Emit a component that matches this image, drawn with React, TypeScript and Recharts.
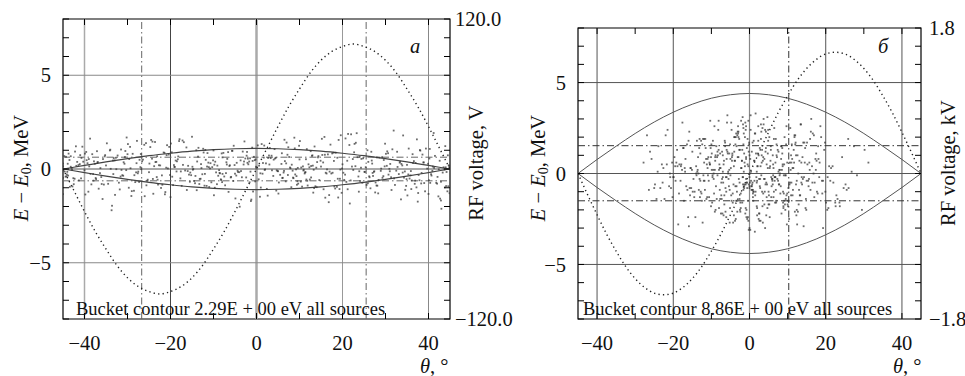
import React from 'react';
import { ComposedChart, XAxis, YAxis, Scatter, Line, ReferenceLine, ReferenceArea } from 'recharts';

const FONT = '"Liberation Serif", "Times New Roman", Times, serif';

// ---------- axes ----------
const xTicks = [-40, -30, -20, -10, 0, 10, 20, 30, 40];
const xLabelTicks = [-40, -20, 0, 20, 40];
const eTicks = [-8, -7, -6, -5, -4, -3, -2, -1, 0, 1, 2, 3, 4, 5, 6, 7, 8];
const eLabelTicks = [-5, 0, 5];
const rfTicksA = [-120, -105, -90, -75, -60, -45, -30, -15, 0, 15, 30, 45, 60, 75, 90, 105, 120];
const rfTicksB = [-1.8, -1.575, -1.35, -1.125, -0.9, -0.675, -0.45, -0.225, 0, 0.225, 0.45, 0.675, 0.9, 1.125, 1.35, 1.575, 1.8];
const rfLabelsA = ['−120.0', '120.0'];
const rfLabelsB = ['−1.8', '1.8'];

// ---------- bucket contours ----------
const thetaC = [-45, -40, -35, -30, -25, -20, -15, -10, -5, 0, 5, 10, 15, 20, 25, 30, 35, 40, 45];
const contourUpA = [0, 0.19, 0.38, 0.55, 0.71, 0.84, 0.95, 1.03, 1.08, 1.1, 1.08, 1.03, 0.95, 0.84, 0.71, 0.55, 0.38, 0.19, 0];
const contourLoA = [0, -0.19, -0.38, -0.55, -0.71, -0.84, -0.95, -1.03, -1.08, -1.1, -1.08, -1.03, -0.95, -0.84, -0.71, -0.55, -0.38, -0.19, 0];
const contourUpB = [0, 0.77, 1.5, 2.2, 2.83, 3.37, 3.81, 4.14, 4.33, 4.4, 4.33, 4.14, 3.81, 3.37, 2.83, 2.2, 1.5, 0.77, 0];
const contourLoB = [0, -0.77, -1.5, -2.2, -2.83, -3.37, -3.81, -4.14, -4.33, -4.4, -4.33, -4.14, -3.81, -3.37, -2.83, -2.2, -1.5, -0.77, 0];

// ---------- RF voltage ----------
const thetaRF = [-45, -42.5, -40, -37.5, -35, -32.5, -30, -27.5, -25, -22.5, -20, -17.5, -15, -12.5, -10, -7.5, -5, -2.5, 0,
  2.5, 5, 7.5, 10, 12.5, 15, 17.5, 20, 22.5, 25, 27.5, 30, 32.5, 35, 37.5, 40, 42.5, 45];
const rfA = [0, -17, -34, -50, -64, -77, -87, -94, -98, -100, -98, -94, -87, -77, -64, -50, -34, -17, 0,
  17, 34, 50, 64, 77, 87, 94, 98, 100, 98, 94, 87, 77, 64, 50, 34, 17, 0];
const rfB = [0, -0.26, -0.51, -0.75, -0.96, -1.15, -1.3, -1.41, -1.48, -1.5, -1.48, -1.41, -1.3, -1.15, -0.96, -0.75, -0.51, -0.26, 0,
  0.26, 0.51, 0.75, 0.96, 1.15, 1.3, 1.41, 1.48, 1.5, 1.48, 1.41, 1.3, 1.15, 0.96, 0.75, 0.51, 0.26, 0];

// ---------- particle clouds ----------
const xA = [
  -43.2, 12.7, -8.1, 31.4, -27.9, 3.6, 40.2, -15.5, 22.8, -36.4,
  7.9, -2.3, 18.1, -41.7, 27.3, -11.9, 35.6, -22.4, 0.8, 14.3,
  -31.2, 43.5, -5.7, 25.9, -18.8, 9.2, -39.1, 33.7, -13.6, 20.4,
  -24.5, 4.9, 38.8, -7.3, 16.6, -44.1, 29.8, -1.2, 11.5, -33.9,
  42.1, -19.7, 6.3, -29.4, 24.1, -9.8, 37.2, -37.8, 1.9, 15.8,
  -14.2, 28.6, -42.5, 10.4, -26.1, 34.9, -4.6, 19.3, -35.2, 44.2,
  -0.4, -21.3, 13.1, -38.6, 26.7, -10.5, 41.3, -16.9, 8.6, -30.7,
  32.5, -6.8, 21.7, -44.7, 5.5, -23.8, 36.9, -12.4, 17.4, -40.3,
  30.1, -3.4, 39.7, -28.5, 2.7, -17.6, 23.3, -34.5, 12.1, -8.9,
  44.8, -25.3, 9.9, -42.9, 27.9, -0.9, 16.1, -32.3, 35.1, -19.1,
  6.8, -11.2, 40.9, -37.1, 19.8, -5.1, 29.2, -45.0, 13.9, -21.9,
  3.1, 33.1, -27.2, 24.6, -15.9, 42.7, -7.7, 11.0, -36.9, 18.7,
  -41.1, 26.2, -2.8, 37.9, -20.6, 7.2, -31.8, 14.9, -9.4, 31.9,
  -13.0, 22.2, -43.8, 4.2, 38.3, -24.9, 10.9, -33.2, 28.3, -1.7,
  17.0, -39.6, 34.3, -6.2, 43.0, -18.2, 1.4, -29.9, 20.9, -12.8,
  -35.7, 8.1, 25.4, -44.4, 15.2, -4.0, 36.4, -22.9, 5.9, -26.8,
  39.2, -10.1, 30.7, -38.2, 12.4, -16.3, 23.9, -3.0, 41.8, -32.7,
  -7.0, 19.0, -42.2, 27.0, -14.7, 9.5, -25.7, 35.8, -0.2, 13.4,
  -30.3, 44.5, -19.4, 2.2, -37.4, 21.3, -8.5, 32.8, -11.6, 6.6,
  -23.1, 40.6, -45.0, 16.9, -2.0, 28.9, -34.1, 11.8, -17.1, 37.5,
  0.3, -40.8, 24.3, -13.3, 33.4, -27.5, 7.6, -6.5, 18.4, -20.1,
  42.4, -31.5, 14.6, -9.1, 26.5, -43.5, 3.9, 38.6, -16.0, 10.1,
  -28.2, 20.0, -4.3, 30.4, -36.1, 8.8, -12.1, 44.0, -24.1, 15.5,
  -1.5, 34.6, -39.9, 22.5, -18.5, 5.2, 41.0, -33.6, 12.9, -7.9,
  29.5, -26.4, 1.0, -42.0, 17.7, -10.8, 36.1, -21.6, 25.1, -3.7,
  -35.0, 9.7, 39.4, -15.2, 4.5, -29.1, 31.1, -44.9, 19.6, -8.3,
  13.7, -23.5, 43.7, -0.6, 27.6, -38.9, 6.1, -14.0, 35.3, -30.0,
  21.1, -5.4, -41.4, 11.3, -19.9, 32.2, -2.6, 23.7, -27.0, 40.0,
  -11.4, 8.4, -32.0, 37.0, -17.9, 16.3, -43.0, 2.4, 28.0, -6.0,
  34.0, -24.7, 18.9, -37.6, 10.6, -13.8, 42.9, -20.9, 5.0, -29.6,
];
const yA = [
  0.12, -0.45, 0.83, -1.12, 0.31, -0.07, 0.56, -0.68, 1.34, -0.22,
  0.04, 0.71, -0.93, 0.38, -0.15, 1.02, -0.51, 0.19, -1.48, 0.62,
  -0.33, 0.09, 0.97, -0.76, 0.45, -0.02, -1.21, 0.27, 0.66, -0.58,
  1.55, -0.11, 0.35, -0.87, 0.78, -0.29, 0.14, -1.63, 0.52, 0.01,
  -0.42, 0.89, -0.19, 1.18, -0.64, 0.23, -0.98, 0.41, -0.05, 1.71,
  -0.37, 0.61, -0.81, 0.08, 1.29, -0.54, 0.33, -1.07, 0.74, -0.16,
  0.47, -1.35, 0.18, -0.26, 0.92, -0.71, 0.06, 1.43, -0.49, 0.28,
  -0.09, 0.54, -1.84, 0.69, -0.31, 0.15, -0.62, 1.08, -0.24, 0.39,
  0.81, -0.44, 0.02, -1.16, 0.59, -0.13, 1.91, -0.79, 0.25, -0.36,
  0.16, -0.57, 1.24, -0.03, -0.88, 0.43, -0.2, 0.72, -1.41, 0.11,
  -0.66, 0.34, -0.1, 0.95, -1.27, 0.21, 0.63, -0.47, 0.07, -0.84,
  1.12, -0.27, 0.49, -0.73, 0.17, -1.58, 0.86, -0.04, 0.37, -0.95,
  0.26, -0.39, 1.47, -0.6, 0.03, 0.76, -1.09, 0.44, -0.18, 2.05,
  -0.52, 0.13, -0.35, 1.06, -0.77, 0.29, -0.08, 0.58, -1.3, 0.4,
  -0.14, 0.91, -0.46, 0.2, -2.12, 0.67, -0.25, 1.33, -0.69, 0.05,
  0.53, -0.97, 0.1, -0.41, 1.61, -0.17, 0.32, -0.83, 0.84, -0.01,
  -1.19, 0.46, -0.3, 0.79, -0.56, 1.15, -0.12, 0.24, -0.74, 0.6,
  0.36, -1.52, 0.93, -0.21, 0.0, -0.65, 1.38, -0.34, 0.51, -1.02,
  -0.06, 0.73, -0.86, 0.3, -0.48, 1.87, -0.23, 0.11, -0.9, 0.42,
  0.68, -0.28, 0.15, -1.39, 0.55, -0.1, 0.99, -0.63, 0.22, -1.74,
  1.26, -0.5, 0.07, -0.8, 0.39, -0.14, 0.64, -1.22, 0.87, -0.32,
  -0.02, 1.04, -0.59, 0.18, -1.03, 0.48, -0.37, 0.77, -0.11, 1.49,
  -0.7, 0.25, -0.16, 0.94, -0.43, 1.67, -0.89, 0.09, -0.53, 0.35,
  0.57, -1.11, 0.82, -0.05, 0.41, -0.72, 0.13, -1.96, 0.7, -0.26,
  -0.38, 0.5, -0.99, 1.21, -0.2, 0.03, -0.61, 0.88, -0.15, 0.46,
  0.19, -0.78, 1.09, -0.33, 0.6, -1.44, 0.27, -0.08, 1.8, -0.55,
  -0.92, 0.37, -0.03, 0.65, -1.25, 0.14, -0.47, 1.0, -0.29, 0.79,
  0.44, -0.64, 0.21, -0.18, 1.36, -0.85, 0.56, -0.4, 0.1, -1.33,
  0.85, -0.09, -0.73, 0.32, 1.59, -0.24, 0.06, -1.06, 0.62, -0.45,
  -0.19, 1.17, -0.52, 0.28, -0.94, 0.4, -1.68, 0.74, -0.12, 0.53,
];
const xA2 = [
  38.4, -12.3, 5.1, -33.0, 19.5, -40.5, 27.7, -2.1, 14.0, -21.0,
  -44.3, 9.3, -17.2, 31.0, -6.9, 42.3, -28.8, 0.5, 23.0, -35.5,
  11.7, -25.0, 36.6, -9.7, 2.9, -38.0, 17.2, -14.5, 29.0, -0.8,
  -30.9, 44.1, -19.0, 7.0, -42.6, 24.8, -4.9, 33.9, -22.0, 12.6,
  -8.7, 20.7, -36.0, 39.9, -13.9, 4.0, -27.6, 30.6, -1.3, 15.0,
  41.5, -23.2, 8.9, -44.0, 26.0, -11.0, 35.0, -32.9, 1.7, -16.6,
  18.3, -39.3, 28.4, -5.3, 43.3, -20.4, 10.3, -29.3, 22.0, -7.5,
  -41.9, 13.2, -3.2, 37.7, -24.3, 6.4, -34.8, 25.6, -12.9, 32.0,
  -18.0, 2.0, 40.4, -26.6, 16.0, -43.2, 9.0, -10.0, 34.5, -37.0,
  21.9, -1.0, -31.0, 12.3, 44.6, -15.0, 26.3, -22.7, 4.6, -39.0,
  30.9, -8.0, 17.9, -45.0, 6.9, -28.0, 38.0, -13.2, 23.5, -3.9,
  -33.4, 11.2, -20.8, 42.0, -0.1, 29.3, -41.0, 15.6, -9.6, 35.9,
  -25.6, 3.3, -14.8, 19.1, -37.9, 8.2, 44.9, -30.5, 27.1, -6.3,
  13.5, -42.3, 33.3, -17.4, 0.0, -23.6, 39.0, -11.8, 20.2, -35.8,
  5.8, -29.0, 24.0, -4.4, 41.2, -19.6, 10.8, -38.4, 31.6, -15.7,
  -2.4, 36.3, -26.0, 14.1, -44.6, 22.7, -8.2, 1.2, -32.6, 43.8,
  18.8, -12.0, 7.4, -21.2, 29.6, -40.0, 3.5, -5.9, 37.3, -27.3,
  25.2, -34.0, 11.9, -1.9, 40.7, -18.3, 16.8, -43.7, 6.0, -10.3,
  32.7, -23.0, 0.6, -36.7, 21.6, -7.1, 42.6, -14.3, 9.6, -30.2,
  -39.8, 26.9, -3.6, 15.3, -25.4, 35.4, -12.6, 4.3, -42.8, 19.9,
  10.0, -20.0, 38.1, -31.4, 1.5, -9.2, 23.1, -44.2, 30.3, -16.2,
  -5.0, 14.4, -37.3, 43.9, -22.2, 7.8, -28.4, 34.1, -0.3, 18.0,
  -13.5, 27.4, -40.7, 2.6, -19.2, 40.1, -6.6, 11.4, -33.7, 24.4,
  36.8, -2.9, 20.6, -27.8, 8.5, -11.5, 44.4, -35.3, 16.4, -21.4,
  3.0, -43.4, 29.9, -8.6, 13.0, -24.0, 38.9, -17.7, 25.8, -1.4,
  -31.6, 6.5, 42.9, -14.9, 21.2, -39.5, 0.9, -26.9, 33.6, -10.7,
  17.6, -4.7, -36.3, 28.1, -20.3, 11.6, -43.9, 37.6, -7.9, 4.7,
  -29.7, 22.4, -15.4, 40.3, -1.6, 12.7, -38.7, 31.3, -23.3, 9.4,
  44.7, -9.9, 15.9, -33.3, 26.8, -18.6, 1.8, -41.3, 34.8, -5.6,
  -24.2, 19.4, -11.1, 36.0, -30.6, 7.3, -2.2, 23.8, -45.0, 13.3,
];
const yA2 = [
  -0.21, 0.88, -1.31, 0.46, -0.03, 1.19, -0.72, 0.33, -0.97, 0.07,
  0.65, -0.38, 1.52, -0.12, 0.24, -1.46, 0.81, -0.55, 0.15, -0.83,
  1.06, -0.17, 0.42, -1.0, 0.72, -0.27, 1.3, -0.64, 0.02, -1.2,
  0.36, -0.91, 0.11, 1.41, -0.49, 0.57, -1.57, 0.19, -0.34, 0.95,
  -0.06, 1.63, -0.8, 0.28, -1.13, 0.5, -0.23, 0.84, -1.71, 0.13,
  0.7, -0.43, 1.1, -0.15, 0.38, -0.96, 0.22, -1.38, 0.61, -0.08,
  -1.04, 0.31, -0.58, 1.24, -0.19, 0.77, -0.67, 0.04, 1.85, -0.4,
  0.17, -1.26, 0.93, -0.32, 0.55, -0.1, 1.37, -0.85, 0.26, -0.5,
  1.49, -0.02, -0.74, 0.41, -1.53, 0.68, -0.29, 0.99, -0.13, 0.35,
  -0.61, 1.14, -0.36, 0.09, -0.92, 1.72, -0.44, 0.2, -1.15, 0.53,
  0.01, -0.7, 0.87, -1.34, 0.3, -0.18, 1.01, -0.53, 0.63, -2.01,
  0.45, -0.24, 1.27, -0.78, 0.12, -0.47, 0.74, -1.08, 0.39, -0.11,
  -0.87, 0.58, -0.04, 1.55, -0.62, 0.23, -1.29, 0.96, -0.37, 0.16,
  1.2, -0.52, 0.34, -0.9, 0.07, 1.44, -0.75, 0.49, -0.2, -1.6,
  0.27, -1.18, 0.66, -0.09, 1.92, -0.41, 0.14, -0.82, 1.05, -0.3,
  -0.45, 0.79, -1.45, 0.37, -0.14, 0.89, -0.59, 1.33, -0.01, -0.98,
  0.6, -0.26, 1.16, -1.23, 0.48, -0.07, 0.71, -0.42, 1.58, -0.69,
  -0.16, 1.03, -0.88, 0.25, -0.35, 0.52, -1.77, 0.82, -0.48, 0.1,
  0.92, -0.57, 0.18, -1.05, 1.28, -0.22, 0.44, -0.76, 0.06, 1.68,
  -1.36, 0.29, -0.11, 0.75, -0.63, 1.09, -0.28, 0.56, -0.93, 0.03,
  0.51, -1.5, 0.98, -0.05, 0.32, -0.81, 1.4, -0.39, 0.17, -1.12,
  -0.25, 0.69, -0.54, 1.22, -1.01, 0.08, -0.33, 1.79, -0.66, 0.43,
  1.13, -0.12, 0.59, -1.42, 0.21, -0.6, 0.9, -0.17, -2.2, 0.54,
  -0.79, 0.4, -0.3, 1.5, -0.46, 0.13, -1.19, 0.67, -0.02, 0.86,
  0.24, -0.95, 1.35, -0.21, 0.73, -1.32, 0.35, -0.5, 1.0, -0.14,
  -0.4, 1.56, -0.68, 0.12, -1.08, 0.47, -0.23, 0.8, -1.62, 0.31,
  0.83, -0.35, 0.05, -0.89, 1.18, -0.56, 0.28, -1.28, 0.62, -0.07,
  -1.0, 0.53, -0.19, 1.07, -0.71, 0.16, 1.62, -0.44, 0.38, -0.84,
  0.2, -1.4, 0.76, -0.27, 0.45, -0.13, 1.25, -0.61, -0.9, 0.97,
  1.46, -0.52, 0.1, -1.07, 0.64, -0.32, 0.91, -1.21, 0.29, -0.04,
];
const xB = [
  2.1, -7.4, 11.8, -0.9, 5.6, -14.2, 8.3, -3.7, 17.5, -10.1,
  0.4, 6.9, -5.2, 13.6, -18.7, 3.3, -1.8, 9.7, -12.5, 21.4,
  -4.4, 1.2, -8.9, 15.1, -2.6, 7.8, -22.3, 4.7, -6.3, 10.9,
  -15.8, 12.4, -0.2, 3.9, -11.2, 19.3, -3.1, 6.2, -9.6, 0.9,
  25.2, -5.9, 8.8, -13.4, 2.7, -1.1, 14.5, -7.8, 4.1, -19.9,
  11.1, -2.3, 5.3, -16.6, 9.2, -4.8, 1.6, -10.7, 18.1, -0.6,
  7.3, -12.9, 3.5, -6.8, 23.6, -1.5, 10.2, -8.1, 0.1, 13.9,
  -3.3, 16.4, -24.8, 6.5, -9.1, 2.4, -5.5, 12.0, -14.9, 8.0,
  -0.3, 4.4, -17.3, 9.9, -2.0, 20.7, -7.0, 1.4, -11.9, 5.8,
  15.7, -4.1, 7.1, -20.8, 3.0, -8.6, 11.5, -1.3, 27.4, -6.6,
  0.7, -13.8, 9.0, -3.9, 17.0, -10.4, 2.9, -5.0, 6.0, -26.1,
  12.8, -1.9, 4.9, -15.3, 8.6, -7.2, 19.8, -0.8, 3.2, -9.3,
  -12.2, 6.7, -4.6, 14.2, -18.0, 1.0, -2.9, 10.6, -6.0, 22.6,
  5.1, -11.0, 0.0, 8.4, -16.1, 3.7, -8.4, 13.1, -3.5, 16.9,
  -21.7, 9.5, -1.6, 4.2, -9.9, 11.9, -5.7, 0.5, 18.6, -13.1,
  2.5, -7.6, 15.4, -0.5, 6.4, -19.2, 10.0, -3.0, 1.8, -11.5,
  24.3, -4.3, 7.6, -14.5, 3.4, -6.9, 12.6, -1.0, 5.4, -23.4,
  9.4, -2.7, 17.9, -9.0, 0.2, -12.7, 4.6, -5.3, 14.8, -17.6,
  -0.1, 11.4, -7.9, 2.0, -15.0, 6.8, -3.6, 20.1, -10.8, 1.3,
  8.9, -20.3, 4.0, -1.4, 13.3, -8.2, 0.6, -4.9, 29.5, -6.4,
  -13.6, 7.0, -2.2, 16.0, -11.4, 3.1, -0.7, 10.4, -18.4, 5.0,
  -5.8, 12.2, -9.4, 1.9, -26.9, 8.1, -3.8, 14.0, 0.3, -7.1,
  19.0, -1.2, 6.3, -14.0, 2.8, -10.0, 9.8, -4.5, 22.0, -16.9,
  1.5, -6.1, 11.7, -2.4, 4.8, -12.0, 15.9, -0.4, 7.4, -8.8,
  -20.0, 3.6, -5.1, 13.5, -1.7, 8.7, -15.6, 0.8, -9.7, 17.3,
  6.1, -3.2, 10.8, -22.8, 2.3, -7.3, 18.4, -11.7, 4.3, 0.0,
  12.9, -17.9, 5.7, -4.0, 0.9, -9.2, 26.0, -2.1, 9.1, -13.2,
  -6.7, 3.8, -1.0, 14.7, -24.1, 7.7, -3.4, 11.3, -8.5, 2.6,
  16.5, -12.4, 1.1, -5.6, 20.4, -0.9, 6.6, -10.3, 4.5, -15.4,
  -2.5, 8.2, -19.5, 12.3, -7.7, 0.0, 31.2, -4.7, 5.2, -1.6,
];
const yB = [
  0.4, -1.2, 2.1, -0.3, 1.5, -2.4, 0.8, -0.7, 1.1, -1.8,
  0.1, 1.9, -0.9, 0.6, -2.8, 1.3, -0.2, 2.6, -1.5, 0.3,
  -1.1, 0.7, -2.0, 1.7, -0.5, 0.2, -1.4, 3.1, -0.8, 1.0,
  2.3, -0.4, 1.2, -1.7, 0.5, -3.0, 0.9, -0.1, 1.8, -1.3,
  -0.6, 2.8, -1.0, 0.0, 1.4, -2.2, 0.6, -0.9, 2.4, -0.2,
  1.6, -1.9, 0.3, -0.7, 2.0, -1.2, 3.3, -0.4, 0.8, -2.5,
  -0.3, 1.1, -2.7, 0.5, -1.6, 2.2, -0.8, 1.3, 0.0, 0.9,
  -1.5, 0.4, -0.6, 2.5, -2.1, 1.0, -0.3, 1.6, -1.0, 0.2,
  2.9, -0.5, 1.4, -1.1, 0.7, -1.9, 0.1, -3.2, 1.9, -0.7,
  0.6, -2.3, 1.0, -0.2, 2.7, -1.4, 0.3, -0.6, 1.5, -1.7,
  -0.9, 1.8, -0.1, 2.0, -1.3, 0.5, -2.6, 0.8, -0.4, 1.2,
  0.0, -1.6, 2.4, -0.8, 1.1, -0.3, 1.7, -2.0, 0.6, -1.1,
  1.9, -0.2, 0.9, -2.9, 0.4, -1.0, 2.3, -0.5, 1.3, -1.8,
  -1.2, 0.8, -0.7, 1.5, -2.4, 3.0, -0.1, 0.7, -1.5, 2.1,
  0.5, -1.4, 1.6, -0.6, 0.2, -2.1, 1.1, -0.9, 2.6, -0.3,
  -2.2, 0.3, -0.4, 1.9, -1.0, 0.6, -1.7, 2.2, -0.2, 1.4,
  0.9, -2.7, 0.1, -1.3, 2.5, -0.5, 1.0, -1.9, 0.4, -0.8,
  -0.1, 1.3, -1.1, 0.7, -3.1, 1.8, -0.6, 0.2, -1.4, 2.8,
  1.7, -0.9, 0.5, -2.3, 1.2, -0.2, 2.0, -1.6, 0.9, -0.4,
  -1.8, 0.6, -0.3, 1.1, -1.2, 2.4, -0.7, 0.3, -2.0, 1.5,
  0.2, -1.5, 2.9, -0.9, 0.8, -0.1, 1.4, -2.5, 0.5, -1.0,
  1.2, -0.6, 0.0, -1.8, 2.1, -1.1, 0.7, -0.3, 3.2, -2.2,
  -0.4, 2.0, -1.3, 0.4, -0.8, 1.6, -2.8, 1.0, -0.5, 0.1,
  2.2, -1.0, 0.6, -1.6, 0.3, -0.4, 1.9, -2.4, 1.3, -0.7,
  -0.2, 0.9, -1.9, 2.7, -0.6, 0.4, -1.2, 1.7, -0.1, 0.8,
  1.0, -2.1, 0.2, -0.5, 1.8, -1.4, 0.6, -0.9, 2.3, -3.0,
  -1.7, 0.5, -0.2, 1.2, -1.1, 2.6, -0.8, 0.3, -1.5, 1.4,
  0.7, -0.3, 2.4, -1.9, 0.1, -0.6, 1.5, -1.2, 0.9, -2.6,
  -0.5, 1.6, -1.0, 0.0, -2.0, 0.8, -0.4, 2.9, -1.3, 0.3,
  1.3, -0.7, 0.4, -2.3, 1.1, -0.2, 0.6, -1.5, 2.0, -0.9,
];
const xB2 = [
  -1.4, 9.6, -6.2, 3.1, -13.0, 15.2, -3.8, 7.2, -19.4, 0.6,
  11.3, -8.0, 2.2, -4.2, 18.8, -10.9, 5.5, -0.4, 13.4, -16.3,
  4.9, -2.8, 21.8, -7.5, 0.0, -12.6, 8.5, -5.4, 16.2, -24.4,
  -0.7, 10.7, -9.8, 3.9, -1.7, 14.6, -15.9, 6.8, -3.3, 25.9,
  8.0, -6.6, 1.4, -11.8, 19.6, -2.5, 4.5, -20.6, 12.1, -0.2,
  -4.5, 6.1, -17.0, 10.1, -1.1, 2.8, -8.7, 17.7, -13.7, 5.3,
  23.1, -0.9, 7.9, -5.1, 13.0, -22.0, 1.9, -9.5, 9.3, -2.0,
  0.3, -14.4, 4.2, -7.0, 11.0, -3.6, 20.9, -11.1, 6.4, -18.1,
  15.5, -1.5, -5.8, 8.8, -25.7, 2.5, -10.2, 12.7, -0.5, 3.6,
  -8.3, 17.1, -3.0, 6.9, -15.1, 1.0, -6.4, 28.2, -12.3, 9.9,
  2.0, -19.0, 10.5, -1.2, 4.4, -9.0, 14.3, -4.0, 22.8, -7.8,
  -16.8, 7.5, -0.1, 12.5, -5.6, 1.7, -21.1, 9.1, -2.6, 16.6,
  5.9, -11.6, 19.1, -3.9, 0.8, -8.1, 3.4, -14.0, 11.6, -0.6,
  -23.9, 8.4, -2.2, 13.8, -6.5, 4.0, -10.5, 18.3, -1.6, 7.0,
  -12.8, 2.1, 24.7, -4.7, 10.3, -17.7, 0.4, -7.2, 14.9, -2.9,
  6.2, -20.2, 3.0, -9.4, 16.8, -0.3, 8.6, -13.3, 1.3, -5.0,
  12.0, -3.4, -27.8, 5.0, -8.9, 21.2, -1.8, 9.7, -15.5, 2.6,
  -6.0, 14.1, -11.3, 0.2, 7.8, -3.1, 19.9, -18.9, 4.7, -9.9,
  10.6, -0.8, 5.6, -12.1, 2.3, -25.0, 15.8, -4.4, 8.3, -7.4,
  -2.3, 17.6, -14.7, 1.1, -6.3, 12.2, -1.0, 26.8, -10.6, 3.7,
  -19.7, 6.6, -3.5, 10.9, -0.3, 4.1, -16.4, 13.6, -8.0, 0.9,
  22.5, -5.3, 2.7, -11.0, 9.0, -2.7, 15.0, -21.5, 5.2, -1.3,
  -9.1, 1.6, 18.0, -6.8, 3.5, -13.9, 11.8, 0.0, 7.6, -17.2,
  0.7, -4.8, 13.2, -23.0, 6.0, -1.9, 9.4, -10.1, 20.5, -3.7,
  4.3, -15.7, 1.9, -7.7, 16.1, -0.7, 11.2, -5.2, 2.9, -12.9,
  -26.4, 8.7, -2.4, 14.4, -9.7, 3.2, -18.5, 6.3, -0.9, 23.7,
  -4.1, 10.1, -13.5, 0.1, 7.1, -6.1, 17.4, -1.4, 4.8, -20.9,
  12.4, -8.4, 2.0, -3.2, 25.5, -11.9, 5.7, -16.0, 9.5, -0.2,
  -7.0, 15.6, -1.7, 3.3, -22.6, 8.9, -4.6, 11.0, -13.1, 1.5,
  19.3, -2.9, 6.7, -10.4, 0.5, -17.4, 13.7, -6.0, 2.4, 30.2,
];
const yB2 = [
  -0.8, 1.6, -0.2, 2.3, -1.3, 0.5, -2.6, 0.9, -0.4, 1.2,
  0.3, -1.9, 1.1, -0.6, 2.0, -0.1, 0.7, -1.5, 2.7, -0.9,
  1.8, -0.3, 0.4, -2.2, 1.0, -1.1, 0.2, -0.7, 3.0, -1.4,
  -0.5, 2.5, -1.6, 0.8, -0.2, 1.4, -2.9, 0.6, -1.0, 1.9,
  0.0, -1.2, 2.2, -0.4, 1.3, -2.0, 0.5, -0.8, 1.7, -3.1,
  1.1, -0.6, 0.3, -1.8, 2.8, -0.3, 1.5, -1.0, 0.1, -2.4,
  -1.4, 0.9, -0.1, 1.6, -0.9, 2.1, -0.5, 0.2, -1.7, 0.7,
  2.4, -1.0, 1.2, -0.2, 0.6, -2.5, 0.4, -1.3, 1.9, -0.4,
  -0.7, 0.1, 3.2, -1.6, 0.8, -0.3, 1.4, -2.1, 0.5, -1.1,
  1.0, -0.5, 2.6, -0.9, 0.2, -1.5, 1.7, -0.1, -2.7, 0.6,
  -1.9, 1.3, -0.6, 0.4, -2.3, 0.9, -0.2, 2.0, -1.2, 0.3,
  0.8, -0.4, 1.6, -2.8, 0.1, 1.1, -0.7, 0.5, -1.4, 2.2,
  -0.3, 1.9, -1.1, 0.7, -0.5, 2.9, -1.8, 0.0, 1.3, -0.8,
  1.5, -2.2, 0.3, -0.6, 1.8, -1.0, 0.6, -0.2, 2.5, -1.6,
  -1.0, 0.4, -0.8, 2.4, -1.5, 0.2, -0.4, 1.2, -2.0, 0.9,
  0.5, -1.3, 1.9, -0.3, 0.0, -2.6, 1.4, -0.9, 0.7, -0.1,
  2.1, -0.7, 0.6, -1.7, 1.0, -0.4, 3.1, -1.2, 0.3, -2.2,
  -0.2, 1.7, -1.4, 0.8, -0.6, 2.3, -1.0, 0.4, -1.9, 1.1,
  0.6, -2.4, 1.3, -0.1, 2.6, -0.8, 0.2, -1.6, 1.5, -0.5,
  -1.1, 0.7, -0.3, 1.8, -2.1, 1.0, -0.6, 0.1, -1.3, 2.7,
  0.9, -0.2, 2.2, -1.2, 0.4, -3.0, 1.6, -0.5, 0.2, -0.9,
  -1.6, 1.1, -0.7, 0.3, -1.1, 1.9, -0.4, 2.4, -1.7, 0.6,
  0.2, -1.0, 1.5, -2.3, 0.7, -0.1, 2.0, -0.8, 1.2, -1.5,
  -0.6, 2.8, -1.2, 0.5, -0.3, 1.3, -2.0, 0.9, -0.2, 1.6,
  1.4, -0.8, 0.1, -1.4, 2.3, -0.5, 0.8, -2.7, 0.4, -0.4,
  -0.9, 0.5, -2.1, 1.7, -0.2, 1.0, -1.1, 0.3, 2.6, -1.8,
  0.4, -1.5, 0.9, -0.5, 1.6, -2.4, 0.2, -0.7, 1.1, 0.0,
  -2.0, 1.2, -0.4, 2.1, -0.9, 0.6, -1.3, 1.8, -0.1, -0.6,
  1.0, -0.3, 2.7, -1.0, 0.3, -1.9, 0.7, -0.5, 1.9, -1.2,
  -0.4, 2.0, -1.6, 0.5, -0.7, 1.4, -0.2, 0.8, -2.5, 1.3,
];

// ---------- guide lines ----------
const dashVA = [-26.7, 25.5];
const dashHA = [0.63, -0.63];
const dashVB = [10.3];
const dashHB = [1.53, -1.5];

const pairs = (xs: number[], ys: number[], key: string) => xs.map((x, i) => ({ x, [key]: ys[i] }));

const fmt = (v: number) => (v < 0 ? '−' + Math.abs(v) : String(v));

const Dot = (props: any) => {
  const { cx, cy } = props;
  if (cx == null || cy == null) return null;
  return <rect x={cx - 0.9} y={cy - 0.9} width={1.8} height={1.8} fill="#333" fillOpacity={0.72} />;
};

type PanelProps = {
  left: number; width: number; top: number; yW: number; rW: number;
  rfDomain: [number, number]; rfTicks: number[]; rfLabels: string[]; rfGap: number;
  cloud: any[]; up: any[]; lo: any[]; rf: any[];
  vGrid: { x: number; c: string; w: number }[];
  hGrid: { y: number; c: string; w: number }[];
  dashV: number[]; dashH: number[]; dashColor: string;
  contourColor: string; contourWidth: number;
};

function Panel(p: PanelProps) {
  const plotH = 376 - p.top - 57;
  const XTick = (props: any) => {
    const { x, y, payload } = props;
    const v = payload.value;
    return (
      <g>
        <line x1={x} y1={y} x2={x} y2={y - 6} stroke="#000" />
        <line x1={x} y1={y - plotH} x2={x} y2={y - plotH + 6} stroke="#000" />
        {xLabelTicks.includes(v) && (
          <text x={x} y={y + 24} dy="0.35em" textAnchor="middle" fontFamily={FONT} fontSize={20.5} fill="#111">{fmt(v)}</text>
        )}
      </g>
    );
  };
  const YTick = (props: any) => {
    const { x, y, payload } = props;
    const v = payload.value;
    return (
      <g>
        <line x1={x} y1={y} x2={x + 6} y2={y} stroke="#000" />
        {eLabelTicks.includes(v) && (
          <text x={x - 12} y={y} dy="0.35em" textAnchor="end" fontFamily={FONT} fontSize={20.5} fill="#111">{fmt(v)}</text>
        )}
      </g>
    );
  };
  const RTick = (props: any) => {
    const { x, y, index } = props;
    const last = p.rfTicks.length - 1;
    return (
      <g>
        <line x1={x} y1={y} x2={x - 6} y2={y} stroke="#000" />
        {(index === 0 || index === last) && (
          <text x={x + p.rfGap} y={y} dy="0.35em" textAnchor="start" fontFamily={FONT} fontSize={20.5} fill="#111">
            {index === 0 ? p.rfLabels[0] : p.rfLabels[1]}
          </text>
        )}
      </g>
    );
  };
  return (
    <div style={{ position: 'absolute', left: p.left, top: 0 }}>
      <ComposedChart width={p.width} height={376} margin={{ top: p.top, right: 0, bottom: 0, left: 0 }}>
        <XAxis type="number" dataKey="x" domain={[-45, 45]} allowDataOverflow ticks={xTicks} interval={0}
          tickSize={0} tickMargin={0} axisLine={false} tickLine={false} height={57} tick={XTick} />
        <YAxis yAxisId="e" type="number" dataKey="y" domain={[-8, 8]} allowDataOverflow ticks={eTicks} interval={0}
          tickSize={0} tickMargin={0} axisLine={false} tickLine={false} width={p.yW} tick={YTick} />
        <YAxis yAxisId="rf" orientation="right" type="number" dataKey="v" domain={p.rfDomain} allowDataOverflow ticks={p.rfTicks} interval={0}
          tickSize={0} tickMargin={0} axisLine={false} tickLine={false} width={p.rW} tick={RTick} />
        {p.vGrid.map((g) => (
          <ReferenceLine key={'v' + g.x} yAxisId="e" x={g.x} stroke={g.c} strokeWidth={g.w} />
        ))}
        {p.hGrid.map((g) => (
          <ReferenceLine key={'h' + g.y} yAxisId="e" y={g.y} stroke={g.c} strokeWidth={g.w} />
        ))}
        {p.dashV.map((x) => (
          <ReferenceLine key={'dv' + x} yAxisId="e" x={x} stroke={p.dashColor} strokeDasharray="7 3 1.5 3" />
        ))}
        {p.dashH.map((y) => (
          <ReferenceLine key={'dh' + y} yAxisId="e" y={y} stroke={p.dashColor} strokeDasharray="7 3 1.5 3" />
        ))}
        <Scatter yAxisId="e" data={p.cloud} shape={Dot} isAnimationActive={false} />
        <Line yAxisId="e" data={p.up} dataKey="y" type="monotone" stroke={p.contourColor} strokeWidth={p.contourWidth} dot={false} isAnimationActive={false} />
        <Line yAxisId="e" data={p.lo} dataKey="y" type="monotone" stroke={p.contourColor} strokeWidth={p.contourWidth} dot={false} isAnimationActive={false} />
        <Line yAxisId="rf" data={p.rf} dataKey="v" type="monotone" stroke="#222" strokeWidth={1.4} strokeDasharray="1.3 3.2" dot={false} isAnimationActive={false} />
        <ReferenceArea yAxisId="e" x1={-45} x2={45} y1={-8} y2={8} fill="none" fillOpacity={0} stroke="#000" strokeWidth={1.2} />
      </ComposedChart>
    </div>
  );
}

export default function App() {
  const txt = { fontFamily: FONT, fontSize: 20.5, fill: '#111' } as const;
  const cloudA = [...pairs(xA, yA, 'y'), ...pairs(xA2, yA2, 'y')];
  const cloudB = [...pairs(xB, yB, 'y'), ...pairs(xB2, yB2, 'y')];
  return (
    <div style={{ position: 'absolute', left: 0, top: 0, width: 965, height: 376, background: '#fff', overflow: 'hidden' }}>
      <Panel
        left={0} width={520} top={19} yW={63} rW={70}
        rfDomain={[-120, 120]} rfTicks={rfTicksA} rfLabels={rfLabelsA} rfGap={5}
        cloud={cloudA} up={pairs(thetaC, contourUpA, 'y')} lo={pairs(thetaC, contourLoA, 'y')} rf={pairs(thetaRF, rfA, 'v')}
        vGrid={[{ x: -40, c: '#aaa', w: 1.5 }, { x: -20, c: '#444', w: 1 }, { x: 0, c: '#aaa', w: 2.5 }, { x: 20, c: '#999', w: 1 }, { x: 40, c: '#888', w: 1 }]}
        hGrid={[{ y: 5, c: '#888', w: 1.2 }, { y: 0, c: '#555', w: 1 }, { y: -5, c: '#888', w: 1.2 }]}
        dashV={dashVA} dashH={dashHA} dashColor="#666"
        contourColor="#444" contourWidth={1.2}
      />
      <Panel
        left={500} width={465} top={28} yW={78} rW={44}
        rfDomain={[-1.8, 1.8]} rfTicks={rfTicksB} rfLabels={rfLabelsB} rfGap={8}
        cloud={cloudB} up={pairs(thetaC, contourUpB, 'y')} lo={pairs(thetaC, contourLoB, 'y')} rf={pairs(thetaRF, rfB, 'v')}
        vGrid={[{ x: -40, c: '#555', w: 1 }, { x: -20, c: '#555', w: 1 }, { x: 0, c: '#888', w: 1.2 }, { x: 20, c: '#555', w: 1 }, { x: 40, c: '#555', w: 1 }]}
        hGrid={[{ y: 5, c: '#555', w: 1 }, { y: 0, c: '#555', w: 1 }, { y: -5, c: '#555', w: 1 }]}
        dashV={dashVB} dashH={dashHB} dashColor="#333"
        contourColor="#555" contourWidth={1}
      />
      <svg width={965} height={376} style={{ position: 'absolute', left: 0, top: 0, pointerEvents: 'none' }}>
        <text {...txt} x={21} y={168} transform="rotate(-90 21 168)" textAnchor="middle" dominantBaseline="central">
          <tspan fontStyle="italic">E</tspan> − <tspan fontStyle="italic">E</tspan><tspan fontSize={14} dy={5}>0</tspan><tspan dy={-5}>, MeV</tspan>
        </text>
        <text {...txt} x={476} y={163} transform="rotate(-90 476 163)" textAnchor="middle" dominantBaseline="central">RF voltage, V</text>
        <text {...txt} x={538} y={168} transform="rotate(-90 538 168)" textAnchor="middle" dominantBaseline="central">
          <tspan fontStyle="italic">E</tspan> − <tspan fontStyle="italic">E</tspan><tspan fontSize={14} dy={5}>0</tspan><tspan dy={-5}>, MeV</tspan>
        </text>
        <text {...txt} x={948} y={163} transform="rotate(-90 948 163)" textAnchor="middle" dominantBaseline="central">RF voltage, kV</text>
        <text {...txt} fontSize={18.5} x={76} y={315}>Bucket contour 2.29E + 00 eV all sources</text>
        <text {...txt} fontSize={18.5} x={583} y={315}>Bucket contour 8.86E + 00 eV all sources</text>
        <text {...txt} fontStyle="italic" x={410} y={53}>a</text>
        <text {...txt} fontStyle="italic" x={878} y={53}>б</text>
        <text {...txt} x={420} y={373}><tspan fontStyle="italic">θ</tspan>, °</text>
        <text {...txt} x={893} y={373}><tspan fontStyle="italic">θ</tspan>, °</text>
      </svg>
    </div>
  );
}
